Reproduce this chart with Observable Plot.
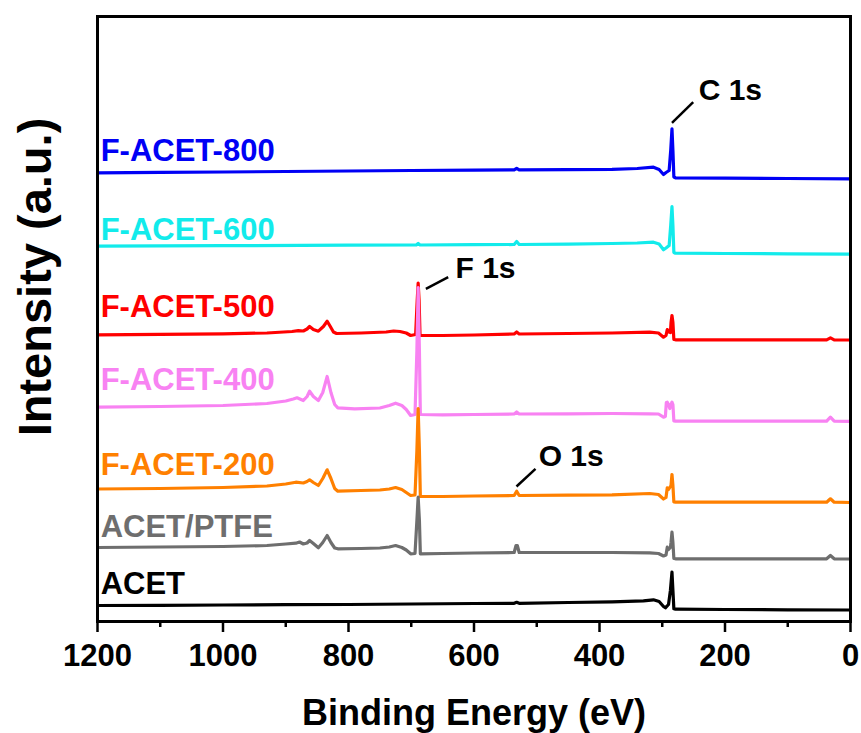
<!DOCTYPE html>
<html>
<head>
<meta charset="utf-8">
<script src="https://cdn.jsdelivr.net/npm/d3@7"></script>
<script src="https://cdn.jsdelivr.net/npm/@observablehq/plot@0.6"></script>
<style>
  html, body { margin: 0; padding: 0; background: #fff; }
  #chart svg { display: block; }
</style>
</head>
<body>
<div id="chart"></div>
<script>
// Series names (top to bottom) and colours
const seriesNames = ["F-ACET-800", "F-ACET-600", "F-ACET-500", "F-ACET-400", "F-ACET-200", "ACET/PTFE", "ACET"];
const seriesColors = ["#0000F5", "#12EBEB", "#FF0000", "#F882F2", "#FF8000", "#6E6E6E", "#000000"];

// [binding energy (eV), intensity (a.u., offset)]
const facet800 = [[1200,448.7],[1100,449.2],[1000,449.5],[900,450],[800,450.5],[700,451],[600,451.4],[536,451.6],[532,453.2],[528,451.6],[450,451.8],[380,452.2],[340,453],[314,454.3],[305,452],[298,447],[294,449],[289,451],[286.5,471],[284.5,492.7],[283,471],[281.5,444.5],[279,443.7],[200,443.4],[100,443],[0,442.7]];
const facet600 = [[1200,375.3],[1000,375.8],[800,376.3],[692,376.5],[689,378],[686,376.5],[600,376.8],[536,377],[532,380],[528,377],[450,377.3],[380,378],[340,378.5],[314,379.3],[305,377.5],[298,371.7],[294,373.5],[289,376],[286.5,396],[284.5,415],[283,396],[281.5,369],[279,368.3],[200,368],[100,367.7],[0,367.3]];
const facet500 = [[1200,286.7],[1100,287.2],[1000,287.7],[930,288.5],[890,290],[880,290.8],[872,290.5],[866,292.5],[862,295],[856,292],[848,290.3],[840,295],[834,300.3],[829,295],[824,289.5],[819,288],[780,288.5],[740,289.5],[728,290.5],[718,290],[708,288.5],[701,286],[693,287],[690.5,321],[689,338.3],[687.5,321],[686,286],[650,286],[600,286.5],[536,287.5],[532,289.5],[528,287.5],[450,288],[380,288.5],[320,289.3],[306,288.5],[298,284.3],[294,286],[292,292],[290,289.5],[287,289],[286,299],[284.5,306],[283,299],[281.5,282],[279,281.7],[200,281.7],[100,281.7],[38,281.7],[32,283.7],[26,281.7],[0,281.5]];
const facet400 = [[1200,214.3],[1100,215],[1000,216],[930,218],[900,220.5],[888,222.5],[882,223.7],[872,221],[866,225],[862,230.3],[856,225],[848,221],[841,229],[834,245],[828,229],[822,217],[817,213.7],[790,212.7],[750,213.5],[735,216],[725,218.3],[715,216],[708,212],[701,206],[694,207],[691,271],[689,334],[687,271],[685.5,207],[650,206.7],[600,207],[536,207.5],[532,209.5],[528,207.5],[450,207.7],[380,208],[320,207.7],[306,207.5],[298,204.3],[295,205],[293.5,219],[292,219.3],[290,217],[288,213],[286,217],[284.5,219.3],[283,217],[281.5,200.5],[279,200.3],[200,200.3],[100,200.3],[38,200.3],[32,204.3],[26,200.3],[0,200.1]];
const facet200 = [[1200,132.5],[1100,133],[1000,134],[930,135.5],[900,137.5],[884,139.3],[872,138.5],[866,140],[862,141.7],[856,139],[848,136],[841,143],[834,151.7],[828,143],[822,133],[817,130.3],[780,131],[750,131.5],[735,132.5],[725,134],[715,132],[708,129],[701,126],[694,126.5],[691,171],[689,213],[687,171],[685.5,125],[650,125],[600,125.5],[536,126],[532,130.3],[528,126],[450,126.3],[380,126.7],[320,128],[306,127],[298,122.5],[294,124],[292,133.7],[290,132],[287,135],[286,136],[284.5,147],[283,136],[281.5,119.5],[279,119.3],[200,119.3],[100,119.3],[38,119.3],[32,122.7],[26,119.3],[0,119]];
const acetPtfe = [[1200,74],[1100,74.5],[1000,75],[930,76],[900,77.5],[884,78.3],[878,79.5],[872,77.5],[866,78.5],[862,81],[856,78],[848,73.7],[841,79],[834,86],[828,79],[822,73.5],[817,72.7],[780,73],[750,73.5],[735,74.5],[725,76],[715,74],[708,71.5],[701,67.7],[694,68],[691,101],[689,124.3],[687,101],[685.5,67.7],[650,68],[600,68.5],[536,69],[533,76],[531,76],[528,69],[450,69],[380,69],[320,68.7],[306,68],[298,65.5],[294,66.5],[292,74.3],[290,72],[287,74],[286,79],[284.5,89.3],[283,79],[281.5,63],[279,62.7],[200,62.7],[100,62.7],[38,62.7],[32,66],[26,62.7],[0,62.5]];
const acet = [[1200,16],[1100,16.2],[1000,16.5],[900,16.8],[800,17],[700,17.5],[600,18],[536,18.2],[532,19.2],[528,18.2],[450,19],[380,19.7],[330,20.7],[314,21.7],[305,20],[298,15],[295,13.7],[290,17],[287,31],[284.5,49.3],[283,31],[281.5,12.7],[279,12.3],[200,12],[100,11.7],[0,11.5]];
const seriesData = [facet800, facet600, facet500, facet400, facet200, acetPtfe, acet];

// Series label anchor (eV, a.u.)
const labelBE = 1195;
const labelY = [470, 391, 314, 241, 156, 94, 37];

// Peak annotations
const peakLabels = ["C 1s", "F 1s", "O 1s"];
const peakTextBE = [242, 629.5, 497];
const peakTextY = [531, 353, 165.5];
const leaderFromBE = [284.5, 676.7, 532.3];
const leaderFromY = [498.7, 332.7, 135];
const leaderToBE = [250.7, 641.1, 502];
const leaderToY = [519.3, 344.3, 152.7];

// Axis ticks
const majorTicks = [1200, 1000, 800, 600, 400, 200, 0];
const minorTicks = [1100, 900, 700, 500, 300, 100];
const xLabel = "Binding Energy (eV)";
const yLabel = "Intensity (a.u.)";

const FONT = "Arial, 'Liberation Sans', Helvetica, sans-serif";

const rows = seriesNames.flatMap((name, i) => seriesData[i].map(([be, v]) => ({series: name, be, v})));
const labels = seriesNames.map((name, i) => ({name, be: labelBE, v: labelY[i], color: seriesColors[i]}));
const peaks = peakLabels.map((t, i) => ({t, be: peakTextBE[i], v: peakTextY[i], x1: leaderFromBE[i], y1: leaderFromY[i], x2: leaderToBE[i], y2: leaderToY[i]}));

const chart = Plot.plot({
  width: 861,
  height: 733,
  marginLeft: 97,
  marginRight: 11,
  marginTop: 16,
  marginBottom: 112,
  style: {fontFamily: FONT, background: "white", color: "black"},
  x: {domain: [1200, 0]},
  y: {domain: [0, 605], axis: null},
  color: {domain: seriesNames, range: seriesColors},
  marks: [
    ...seriesNames.map((name) => Plot.line(rows.filter(d => d.series === name), {
      x: "be", y: "v", stroke: "series", strokeWidth: 3.2, strokeLinejoin: "round", strokeLinecap: "round"
    })),
    Plot.text(labels, {x: "be", y: "v", text: "name", fill: "color", textAnchor: "start", lineAnchor: "middle", fontSize: 31, fontWeight: "bold"}),
    Plot.link(peaks, {x1: "x1", y1: "y1", x2: "x2", y2: "y2", stroke: "black", strokeWidth: 2.5}),
    Plot.text(peaks, {x: "be", y: "v", text: "t", textAnchor: "start", lineAnchor: "middle", fontSize: 30, fontWeight: "bold", fill: "black"}),
    Plot.frame({stroke: "black", strokeWidth: 3}),
    Plot.axisX({ticks: majorTicks, tickSize: 11, tickPadding: 11, strokeWidth: 2.5, fontSize: 31, fontWeight: "bold", label: null, tickFormat: d => String(d)}),
    Plot.axisX({ticks: minorTicks, tickSize: 6, strokeWidth: 2.5, label: null, tickFormat: () => ""}),
    Plot.text([xLabel], {frameAnchor: "bottom", dy: 92, textAnchor: "middle", lineAnchor: "middle", fontSize: 36, fontWeight: "bold", fill: "black"}),
    Plot.text([yLabel], {frameAnchor: "left", dx: -62, dy: -42, rotate: -90, textAnchor: "middle", lineAnchor: "middle", fontSize: 47, fontWeight: "bold", fill: "black"})
  ]
});
document.getElementById("chart").appendChild(chart);
</script>
</body>
</html>
